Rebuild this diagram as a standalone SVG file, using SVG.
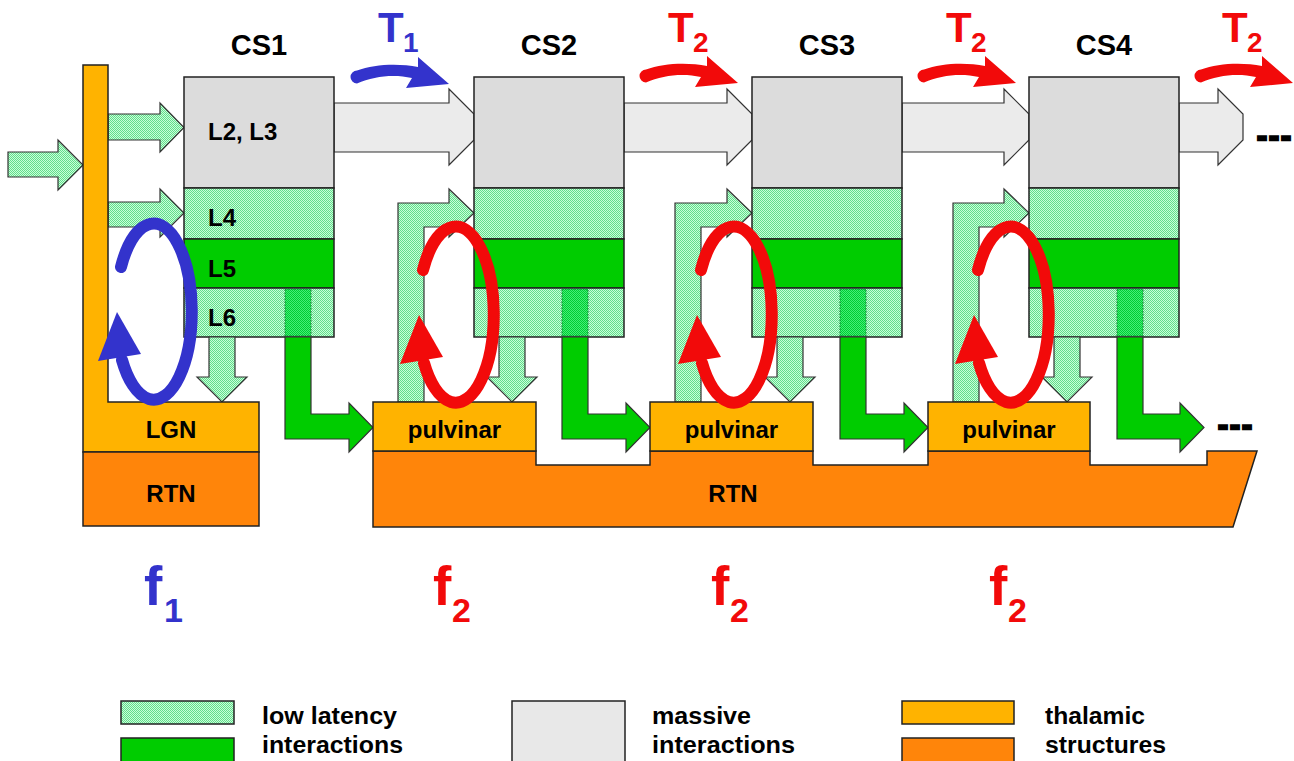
<svg xmlns="http://www.w3.org/2000/svg" xmlns:xlink="http://www.w3.org/1999/xlink" width="1294" height="761" viewBox="0 0 1294 761">
<defs>
<pattern id="lg" width="2" height="2" patternUnits="userSpaceOnUse"><rect width="2" height="2" fill="#c8ffd8"/><rect width="1" height="1" fill="#62dc8c"/><rect x="1" y="1" width="1" height="1" fill="#62dc8c"/></pattern>
<pattern id="dg" width="2" height="2" patternUnits="userSpaceOnUse"><rect width="2" height="2" fill="#44ee77"/><rect width="1" height="1" fill="#00cc33"/><rect x="1" y="1" width="1" height="1" fill="#00cc33"/></pattern>
<path id="tarrow" d="M -92 -13.5 C -75 -20 -50 -21 -31 -17 L -31 -27 L 0 0 L -43 4 L -37 -6 C -55 -10 -75 -8 -92 -0.5 A 6.5 6.5 0 0 1 -92 -13.5 Z"/>
<g id="loop"><path d="M -34 -50 A 38 88 0 1 1 -33 43" fill="none" stroke-width="12" stroke-linecap="round"/><polygon points="-38,-5 -57,44 -14,37" stroke="none"/></g>
</defs>
<style>
.t{font-family:"Liberation Sans",Arial,sans-serif;font-weight:bold;fill:#000}
.ol{stroke:#222;stroke-width:1.5}
.gray{fill:#dcdcdc}
.garr{fill:#ebebeb;stroke:#333;stroke-width:1.2}
.lg{fill:url(#lg)}
.dg{fill:url(#dg)}
.l5{fill:#00cc00}
.thal{fill:#ffb300}
.rtn{fill:#ff850a}
.larr{fill:url(#lg);stroke:#333;stroke-width:1.2}
.darr{fill:#00cc00;stroke:#333;stroke-width:1.2}
.leg{font-family:"Liberation Sans",Arial,sans-serif;font-weight:bold;font-size:23px;fill:#000}
</style>
<rect width="1294" height="761" fill="#fff"/>

<g id="connectors">
<!-- massive interactions (gray) -->
<polygon class="garr" points="334,103 449,103 449,89 474,114 474,140 449,165 449,152 334,152"/>
<polygon class="garr" points="624,103 727,103 727,89 752,114 752,140 727,165 727,152 624,152"/>
<polygon class="garr" points="902,103 1004,103 1004,89 1029,114 1029,140 1004,165 1004,152 902,152"/>
<polygon class="garr" points="1179,103 1218,103 1218,89 1243,114 1243,140 1218,165 1218,152 1179,152"/>
<!-- input arrows -->
<polygon class="larr" points="8,152 58,152 58,140 83,165 58,190 58,177 8,177"/>
<polygon class="larr" points="108,114 160,114 160,103 184,127.5 160,152 160,140 108,140"/>
<polygon class="larr" points="108,202 160,202 160,189 184,213 160,237 160,227 108,227"/>
<!-- pulvinar -> L4 feedback -->
<polygon class="larr" points="398,402 398,203 449,203 449,189 474,213 449,237 449,227 424,227 424,402"/>
<polygon class="larr" points="675,402 675,203 727,203 727,189 752,213 727,237 727,227 701,227 701,402"/>
<polygon class="larr" points="953,402 953,203 1004,203 1004,189 1029,213 1004,237 1004,227 979,227 979,402"/>
</g>

<g id="cs1">
<rect class="gray ol" x="184" y="77" width="150" height="111"/>
<rect class="lg ol" x="184" y="188" width="150" height="51"/>
<rect class="l5 ol" x="184" y="239" width="150" height="49"/>
<rect class="lg ol" x="184" y="288" width="150" height="49"/>
<rect class="dg" x="285" y="289" width="26" height="47" stroke="#117733" stroke-width="1" stroke-dasharray="1.5,1.5"/>
<text class="t" x="208" y="140" font-size="24">L2, L3</text>
<text class="t" x="208" y="226" font-size="24">L4</text>
<text class="t" x="208" y="277" font-size="24">L5</text>
<text class="t" x="208" y="326" font-size="24">L6</text>
</g>
<g id="cs2">
<rect class="gray ol" x="474" y="77" width="150" height="111"/>
<rect class="lg ol" x="474" y="188" width="150" height="51"/>
<rect class="l5 ol" x="474" y="239" width="150" height="49"/>
<rect class="lg ol" x="474" y="288" width="150" height="49"/>
<rect class="dg" x="562" y="289" width="26" height="47" stroke="#117733" stroke-width="1" stroke-dasharray="1.5,1.5"/>
</g>
<g id="cs3">
<rect class="gray ol" x="752" y="77" width="150" height="111"/>
<rect class="lg ol" x="752" y="188" width="150" height="51"/>
<rect class="l5 ol" x="752" y="239" width="150" height="49"/>
<rect class="lg ol" x="752" y="288" width="150" height="49"/>
<rect class="dg" x="840" y="289" width="26" height="47" stroke="#117733" stroke-width="1" stroke-dasharray="1.5,1.5"/>
</g>
<g id="cs4">
<rect class="gray ol" x="1029" y="77" width="150" height="111"/>
<rect class="lg ol" x="1029" y="188" width="150" height="51"/>
<rect class="l5 ol" x="1029" y="239" width="150" height="49"/>
<rect class="lg ol" x="1029" y="288" width="150" height="49"/>
<rect class="dg" x="1117" y="289" width="26" height="47" stroke="#117733" stroke-width="1" stroke-dasharray="1.5,1.5"/>
</g>

<g id="connectors2">
<!-- L6 down arrows -->
<polygon class="larr" points="209,337 235,337 235,377 247,377 222,402 197,377 209,377"/>
<polygon class="larr" points="499,337 525,337 525,377 537,377 512,402 487,377 499,377"/>
<polygon class="larr" points="777,337 803,337 803,377 815,377 790,402 765,377 777,377"/>
<polygon class="larr" points="1054,337 1080,337 1080,377 1092,377 1067,402 1042,377 1054,377"/>
<!-- L6 -> next pulvinar -->
<polygon class="darr" points="285,337 311,337 311,414 349,414 349,403 373,427.5 349,452 349,439 285,439"/>
<polygon class="darr" points="562,337 588,337 588,414 626,414 626,403 650,427.5 626,452 626,439 562,439"/>
<polygon class="darr" points="840,337 866,337 866,414 904,414 904,403 928,427.5 904,452 904,439 840,439"/>
<polygon class="darr" points="1117,337 1143,337 1143,414 1180,414 1180,403 1204,427.5 1180,452 1180,439 1117,439"/>
</g>

<g id="lgn">
<polygon class="thal ol" points="83,65 108,65 108,402 259,402 259,452 83,452"/>
<text class="t" x="171" y="438" font-size="24" text-anchor="middle">LGN</text>
</g>
<g id="rtn1">
<rect class="rtn ol" x="83" y="452" width="176" height="74"/>
<text class="t" x="171" y="502" font-size="24" text-anchor="middle">RTN</text>
</g>
<g id="rtn2">
<polygon class="rtn ol" points="373,451 536,451 536,465 650,465 650,451 813,451 813,465 928,465 928,451 1090,451 1090,465 1207,465 1207,451 1257,451 1233,527 373,527"/>
<text class="t" x="733" y="502" font-size="24" text-anchor="middle">RTN</text>
</g>
<g id="pulvinar1">
<rect class="thal ol" x="373" y="402" width="163" height="49"/>
<text class="t" x="454.5" y="438" font-size="24" text-anchor="middle">pulvinar</text>
</g>
<g id="pulvinar2">
<rect class="thal ol" x="650" y="402" width="163" height="49"/>
<text class="t" x="731.5" y="438" font-size="24" text-anchor="middle">pulvinar</text>
</g>
<g id="pulvinar3">
<rect class="thal ol" x="928" y="402" width="162" height="49"/>
<text class="t" x="1009" y="438" font-size="24" text-anchor="middle">pulvinar</text>
</g>

<g id="loops">
<use xlink:href="#loop" href="#loop" x="155" y="317" stroke="#3333cc" fill="#3333cc"/>
<use xlink:href="#loop" href="#loop" x="457" y="320" stroke="#f20a0a" fill="#f20a0a"/>
<use xlink:href="#loop" href="#loop" x="735" y="320" stroke="#f20a0a" fill="#f20a0a"/>
<use xlink:href="#loop" href="#loop" x="1012" y="320" stroke="#f20a0a" fill="#f20a0a"/>
</g>

<g id="time-arrows">
<use xlink:href="#tarrow" href="#tarrow" x="449" y="84" fill="#3333cc"/>
<use xlink:href="#tarrow" href="#tarrow" x="738" y="83" fill="#f20a0a"/>
<use xlink:href="#tarrow" href="#tarrow" x="1016" y="83" fill="#f20a0a"/>
<use xlink:href="#tarrow" href="#tarrow" x="1293" y="83" fill="#f20a0a"/>
</g>

<g id="labels">
<text class="t" x="259" y="55" font-size="29" text-anchor="middle">CS1</text>
<text class="t" x="549" y="55" font-size="29" text-anchor="middle">CS2</text>
<text class="t" x="827" y="55" font-size="29" text-anchor="middle">CS3</text>
<text class="t" x="1104" y="55" font-size="29" text-anchor="middle">CS4</text>
<text class="t" x="378" y="42" font-size="42" style="fill:#3333cc">T</text>
<text class="t" x="403" y="52" font-size="28" style="fill:#3333cc">1</text>
<text class="t" x="668" y="42" font-size="42" style="fill:#f20a0a">T</text>
<text class="t" x="693" y="52" font-size="28" style="fill:#f20a0a">2</text>
<text class="t" x="946" y="42" font-size="42" style="fill:#f20a0a">T</text>
<text class="t" x="971" y="52" font-size="28" style="fill:#f20a0a">2</text>
<text class="t" x="1222" y="42" font-size="42" style="fill:#f20a0a">T</text>
<text class="t" x="1247" y="52" font-size="28" style="fill:#f20a0a">2</text>
<text class="t" x="1257" y="146" font-size="30" letter-spacing="2" stroke="#000" stroke-width="2.5">---</text>
<text class="t" x="1218" y="435" font-size="30" letter-spacing="2" stroke="#000" stroke-width="2.5">---</text>
<text class="t" x="144" y="605" font-size="55" style="fill:#3333cc">f</text>
<text class="t" x="164" y="622" font-size="34" style="fill:#3333cc">1</text>
<text class="t" x="433" y="605" font-size="55" style="fill:#f20a0a">f</text>
<text class="t" x="452" y="622" font-size="34" style="fill:#f20a0a">2</text>
<text class="t" x="711" y="605" font-size="55" style="fill:#f20a0a">f</text>
<text class="t" x="730" y="622" font-size="34" style="fill:#f20a0a">2</text>
<text class="t" x="989" y="605" font-size="55" style="fill:#f20a0a">f</text>
<text class="t" x="1008" y="622" font-size="34" style="fill:#f20a0a">2</text>
</g>

<g id="legend">
<rect class="lg ol" x="121" y="701" width="113" height="23"/>
<rect class="l5 ol" x="121" y="738" width="113" height="30"/>
<rect x="512" y="701" width="113" height="70" fill="#e8e8e8" class="ol"/>
<rect class="thal ol" x="902" y="701" width="112" height="23"/>
<rect class="rtn ol" x="902" y="738" width="112" height="30"/>
<text class="leg" x="262" y="724" textLength="135" lengthAdjust="spacingAndGlyphs">low latency</text>
<text class="leg" x="262" y="753" textLength="141" lengthAdjust="spacingAndGlyphs">interactions</text>
<text class="leg" x="652" y="724" textLength="99" lengthAdjust="spacingAndGlyphs">massive</text>
<text class="leg" x="652" y="753" textLength="143" lengthAdjust="spacingAndGlyphs">interactions</text>
<text class="leg" x="1045" y="724" textLength="100" lengthAdjust="spacingAndGlyphs">thalamic</text>
<text class="leg" x="1045" y="753" textLength="121" lengthAdjust="spacingAndGlyphs">structures</text>
</g>
</svg>
